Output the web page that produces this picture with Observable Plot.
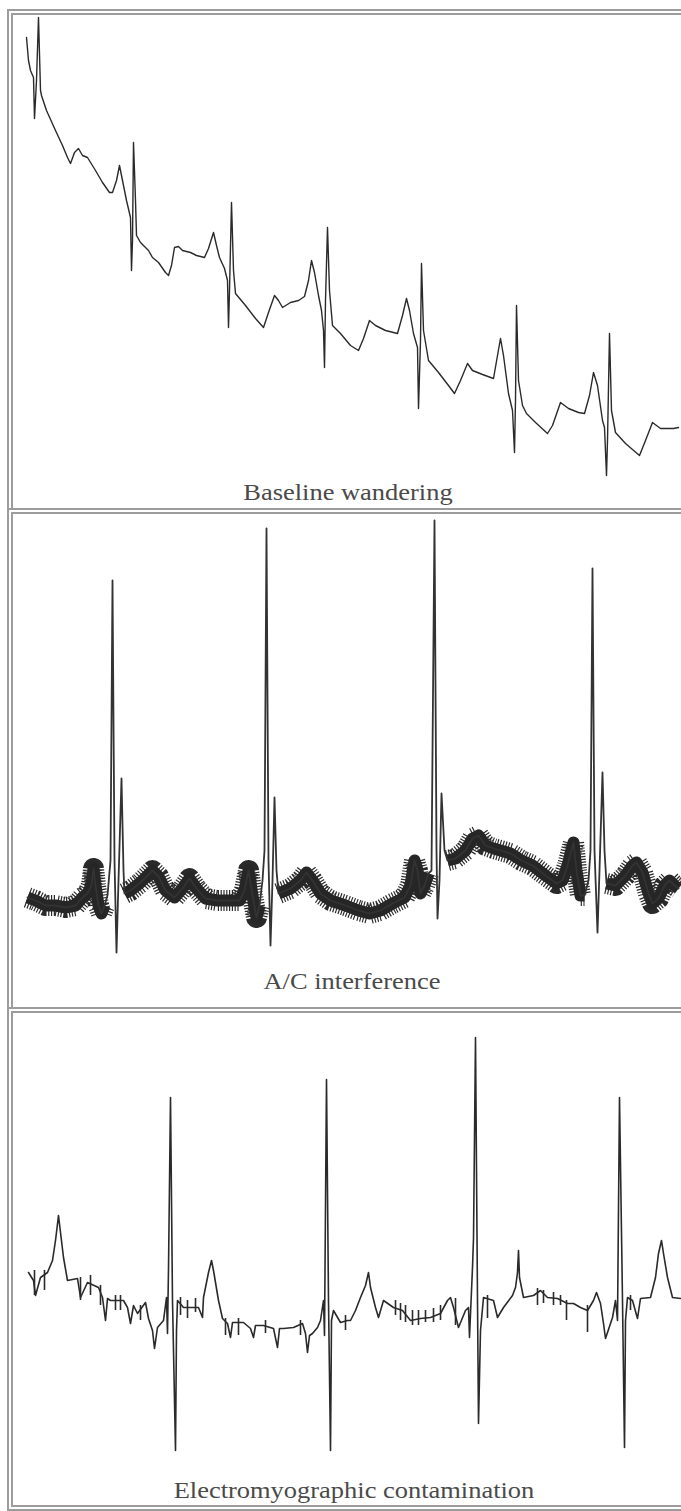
<!DOCTYPE html>
<html>
<head>
<meta charset="utf-8">
<script src="https://cdn.jsdelivr.net/npm/d3@7"></script>
<script src="https://cdn.jsdelivr.net/npm/@observablehq/plot@0.6"></script>
<style>
  html, body { margin: 0; padding: 0; background: #fff; }
  #page { position: relative; width: 681px; height: 1511px; overflow: hidden; background: #fff; }
  .frame { position: absolute; left: 7px; width: 720px; box-sizing: border-box;
           border-left: 6px double #9c9c9c; border-top: 6px double #9c9c9c; }
  .frame.last { border-bottom: 6px double #9c9c9c; }
  .panel { position: absolute; left: 13px; }
  .caption { position: absolute; font-family: "Liberation Serif", "Times New Roman", serif;
             font-size: 23px; line-height: 23px; color: #4a4a4a; white-space: nowrap;
             transform: translateX(-50%) scaleX(1.15); }
</style>
</head>
<body>
<div id="page">
  <div class="frame" style="top:9px;height:499px"></div>
  <div class="frame" style="top:508px;height:499px"></div>
  <div class="frame last" style="top:1007px;height:504px"></div>
  <div class="panel" id="p1" style="top:15px"></div>
  <div class="panel" id="p2" style="top:514px"></div>
  <div class="panel" id="p3" style="top:1013px"></div>
  <div class="caption" style="left:348px;top:481px">Baseline wandering</div>
  <div class="caption" style="left:352px;top:970px">A/C interference</div>
  <div class="caption" style="left:354px;top:1479px">Electromyographic contamination</div>
</div>
<script>
// ---------- Panel 1: baseline wandering (sample index, amplitude units) ----------
const bwT = [26,28,30,33,34,36,38,40,41,46,55,62,67,70,74,78,82,87,95,102,109,112,116,119,122,126,130,131,132,133,135,136,140,148,152,158,165,168,171,174,178,182,190,196,204,208,213,216,219,224,227,228,229,231,233,235,245,255,263,268,274,278,282,290,298,304,308,311,314,318,321,323,324,325,327,329,332,340,350,358,363,369,375,385,397,402,406,409,413,417,418,420,421,423,428,438,448,454,460,467,472,482,493,497,500,503,508,512,514,515,516,518,522,526,535,547,552,560,568,578,584,589,593,597,602,604,606,607,609,611,615,625,639,645,652,660,673,678];
const bwV = [463,440,430,423,382,420,483,410,405,390,370,355,343,337,348,352,345,343,330,318,308,308,320,335,320,300,283,230,260,358,300,265,258,250,243,238,228,225,235,253,254,250,248,245,243,252,268,255,243,232,220,173,210,298,230,207,195,182,173,188,205,200,193,198,200,204,220,240,228,205,190,170,133,200,273,210,175,167,155,150,162,180,175,170,167,185,202,190,167,153,92,160,237,170,140,128,115,107,120,137,130,126,122,145,162,145,107,90,48,100,195,120,95,87,78,67,75,98,92,88,87,105,128,115,80,73,25,60,167,90,68,57,45,60,78,72,72,73];

// ---------- Panel 2: A/C interference ----------
const acT = [27,35,45,55,65,75,82,87,91,93,95,98,101,104,107,110,112,114,116,118,121,123,124,130,140,147,152,158,165,174,182,189,196,205,217,230,239,244,248,252,256,259,262,264,266,268,270,272,274,276,278,290,300,306,312,320,330,345,358,369,380,392,404,410,414,417,420,424,428,431,434,436,437,439,441,444,447,455,465,472,478,485,493,500,510,521,532,545,556,562,567,573,576,580,584,588,590,592,594,597,599,602,604,606,615,625,632,636,642,648,652,658,664,669,674,678];
const acV = [3,0,-5,-5,-7,-5,3,7,15,32,15,-5,-13,-5,5,40,320,40,-52,20,122,30,7,10,18,25,30,24,10,3,12,22,12,2,0,0,0,10,30,5,-17,-5,20,50,372,40,-45,20,103,30,7,12,20,28,20,7,0,-5,-10,-13,-10,-3,3,15,40,30,7,15,27,30,380,50,-18,20,107,50,40,42,50,62,65,55,52,50,47,40,35,25,17,20,35,58,30,5,5,20,50,332,50,-32,30,128,50,17,15,25,35,38,28,7,-3,2,15,20,15,12];
// QRS stretches (start, end) where the mains-hum band thins to a single trace
const acQrsStart = [104,259,428,584];
const acQrsEnd   = [124,278,447,606];

// ---------- Panel 3: electromyographic contamination ----------
const emgT = [28,33,35,40,47,52,55,58,60,63,67,77,80,87,98,102,105,107,110,123,127,130,133,137,145,148,152,154,157,163,166,167,168,170,172,175,176,177,183,190,198,202,203,208,211,213,218,222,227,230,232,243,250,253,255,263,273,277,279,283,293,302,305,307,309,312,317,320,323,324,326,328,330,331,333,340,347,350,355,360,365,368,370,375,378,383,393,402,410,420,430,440,447,450,453,458,465,468,469,472,473,475,477,478,480,483,493,497,503,512,515,517,518,519,523,533,540,547,557,567,573,580,587,593,596,600,603,605,612,615,617,619,622,624,625,627,632,637,640,650,655,658,661,663,667,672,680];
const emgV = [28,20,5,23,28,40,60,85,68,43,20,22,3,18,13,3,-20,2,0,0,-7,-23,-5,-13,-2,-18,-30,-48,-27,-20,3,-33,32,203,0,-150,-30,0,-7,-7,-7,-17,3,28,40,30,0,-18,-23,-37,-22,-22,-28,-37,-25,-25,-28,-47,-28,-28,-27,-23,-33,-52,-35,-33,-27,-20,0,-35,221,0,-150,-20,-10,-22,-20,-20,-10,3,15,28,13,-7,-17,0,-7,-10,-20,-18,-17,-13,0,3,-7,-27,-10,-7,-37,33,62,263,0,-123,-30,3,0,-17,-7,5,13,28,50,23,3,5,10,3,2,-3,-3,-7,-10,0,8,-3,-23,-38,-17,0,-20,203,0,-147,-20,3,0,-18,2,3,23,47,60,47,23,3,2];
// muscle-noise bursts: position, upper and lower excursion
const emgNoiseT  = [34,44,80,90,100,115,120,140,180,187,195,225,238,265,300,345,395,400,405,412,418,425,433,440,455,487,537,543,553,560,566,587,630];
const emgNoiseHi = [30,30,23,25,15,5,5,-5,3,0,2,-18,-18,-20,-20,-15,0,-3,-5,-10,-10,-10,-8,-5,2,5,12,10,8,5,0,-5,5];
const emgNoiseLo = [5,10,0,5,-5,-10,-10,-20,-15,-18,-12,-35,-35,-33,-35,-30,-15,-20,-22,-25,-25,-22,-22,-20,-25,-18,-5,-3,-5,-5,-20,-32,-10];

// ---------- build tables ----------
const bw = bwT.map((t, i) => ({t, v: bwV[i]}));
const ac = acT.map((t, i) => ({t, v: acV[i]}));
const acBand = ac
  .filter(d => !acQrsStart.some((s, k) => d.t > s && d.t < acQrsEnd[k]))
  .map(d => ({...d, seg: acQrsEnd.filter(e => e <= d.t).length}));
const emg = emgT.map((t, i) => ({t, v: emgV[i]}));
const emgNoise = emgNoiseT.map((t, i) => ({t, hi: emgNoiseHi[i], lo: emgNoiseLo[i]}));

const common = {
  width: 668, margin: 0,
  x: {domain: [13, 681], axis: null},
  style: {background: "transparent", overflow: "visible"}
};

document.getElementById("p1").append(Plot.plot({
  ...common, height: 465,
  y: {domain: [20, 485], axis: null},
  marks: [
    Plot.line(bw, {x: "t", y: "v", stroke: "#2a2a2a", strokeWidth: 1.4, strokeLinejoin: "round"})
  ]
}));

document.getElementById("p2").append(Plot.plot({
  ...common, height: 456,
  y: {domain: [-70, 386], axis: null},
  marks: [
    // hairy edge of the 50/60 Hz hum band
    Plot.line(acBand, {x: "t", y: "v", z: "seg", stroke: "#2a2a2a", strokeWidth: 21, strokeDasharray: "1.2,1.6", strokeLinejoin: "round", strokeLinecap: "butt"}),
    // dense core of the hum band
    Plot.line(acBand, {x: "t", y: "v", z: "seg", stroke: "#262626", strokeWidth: 12, strokeLinejoin: "round", strokeLinecap: "butt"}),
    Plot.line(ac, {x: "t", y: "v", stroke: "#333", strokeWidth: 1.8, strokeLinejoin: "round"})
  ]
}));

document.getElementById("p3").append(Plot.plot({
  ...common, height: 457,
  y: {domain: [-170, 287], axis: null},
  marks: [
    Plot.ruleX(emgNoise, {x: "t", y1: "lo", y2: "hi", stroke: "#2a2a2a", strokeWidth: 1.6}),
    Plot.line(emg, {x: "t", y: "v", stroke: "#2a2a2a", strokeWidth: 1.6, strokeLinejoin: "round"})
  ]
}));
</script>
</body>
</html>
